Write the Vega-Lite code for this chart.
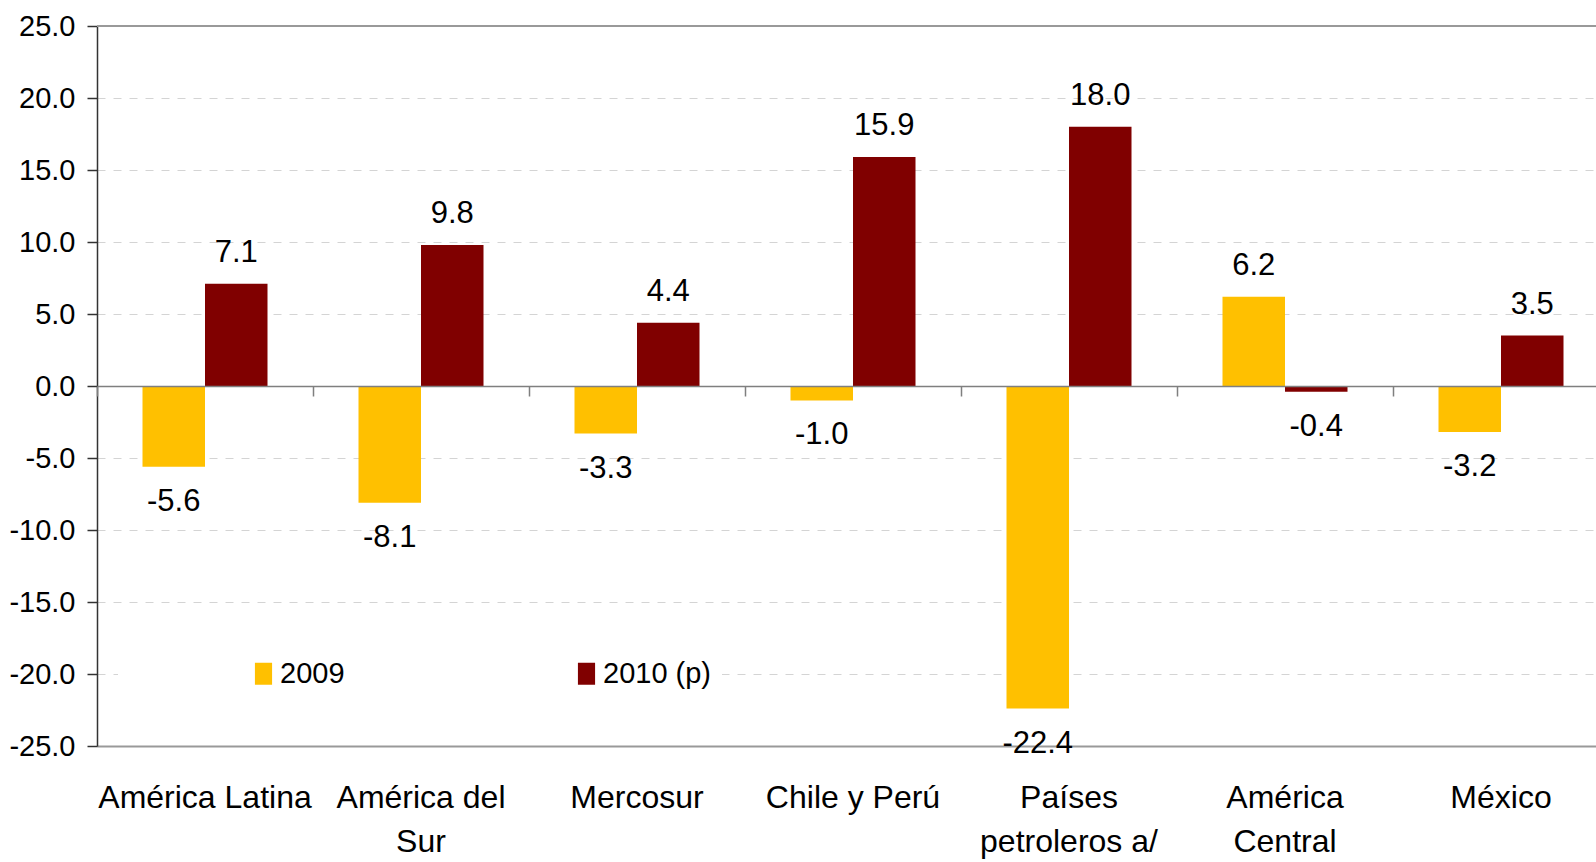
{
  "$schema": "https://vega.github.io/schema/vega-lite/v6.json",
  "width": 1499,
  "height": 720,
  "autosize": {"type": "none"},
  "padding": {"left": 97, "top": 26, "right": 0, "bottom": 116},
  "background": "white",
  "config": {
    "view": {"stroke": null},
    "font": "Liberation Sans, Arial, sans-serif",
    "locale": {"number": {"decimal": ".", "thousands": ",", "grouping": [3], "currency": ["$", ""], "minus": "-"}}
  },
  "data": {
    "values": [
      {"region": "América Latina", "year": "2009", "value": -5.6},
      {"region": "América Latina", "year": "2010 (p)", "value": 7.1},
      {"region": "América del Sur", "year": "2009", "value": -8.1},
      {"region": "América del Sur", "year": "2010 (p)", "value": 9.8},
      {"region": "Mercosur", "year": "2009", "value": -3.3},
      {"region": "Mercosur", "year": "2010 (p)", "value": 4.4},
      {"region": "Chile y Perú", "year": "2009", "value": -1.0},
      {"region": "Chile y Perú", "year": "2010 (p)", "value": 15.9},
      {"region": "Países petroleros a/", "year": "2009", "value": -22.4},
      {"region": "Países petroleros a/", "year": "2010 (p)", "value": 18.0},
      {"region": "América Central", "year": "2009", "value": 6.2},
      {"region": "América Central", "year": "2010 (p)", "value": -0.4},
      {"region": "México", "year": "2009", "value": -3.2},
      {"region": "México", "year": "2010 (p)", "value": 3.5}
    ]
  },
  "resolve": {"axis": {"x": "independent"}},
  "layer": [
    {
      "mark": {"type": "bar"},
      "encoding": {
        "x": {
          "field": "region", "type": "nominal", "sort": null,
          "scale": {"range": [0, 1512], "paddingInner": 0, "paddingOuter": 0},
          "axis": {
            "orient": "bottom", "title": null, "labelAngle": 0, "ticks": false,
            "domain": true, "domainColor": "#999999", "domainWidth": 2,
            "labelFontSize": 32, "labelColor": "#000000", "labelPadding": 36,
            "labelBaseline": "top", "labelLineHeight": 44, "labelLimit": 400,
            "labelOverlap": false, "labelBound": false,
            "labelExpr": "datum.value == 'América del Sur' ? ['América del', 'Sur'] : datum.value == 'Países petroleros a/' ? ['Países', 'petroleros a/'] : datum.value == 'América Central' ? ['América', 'Central'] : datum.value"
          }
        },
        "xOffset": {
          "field": "year", "type": "nominal",
          "scale": {"paddingInner": 0, "paddingOuter": 0.728}
        },
        "y": {
          "field": "value", "type": "quantitative",
          "scale": {"domain": [-25, 25], "nice": false, "zero": false},
          "axis": {
            "title": null,
            "values": [-25, -20, -15, -10, -5, 0, 5, 10, 15, 20, 25],
            "format": ".1f",
            "labelFontSize": 29, "labelColor": "#000000", "labelPadding": 12,
            "tickSize": 10, "tickColor": "#333333", "tickWidth": 1.5,
            "domainColor": "#333333", "domainWidth": 1.5,
            "grid": true, "gridDash": [8, 8], "gridColor": "#d4d4d4", "gridWidth": 1
          }
        },
        "color": {
          "field": "year", "type": "nominal",
          "scale": {"domain": ["2009", "2010 (p)"], "range": ["#FFC000", "#800000"]},
          "legend": {
            "orient": "none", "legendX": 21, "legendY": 623,
            "direction": "horizontal", "title": null,
            "labelFontSize": 29, "labelColor": "#000000",
            "symbolOffset": 121, "labelOffset": 2,
            "symbolType": "M-0.78,-1H0.78V1H-0.78Z", "symbolSize": 484,
            "symbolStrokeWidth": 0, "columnPadding": 106,
            "fillColor": "white", "padding": 10
          }
        }
      }
    },
    {
      "mark": {"type": "rule", "color": "#999999", "strokeWidth": 2},
      "encoding": {"y": {"datum": 25}}
    },
    {
      "transform": [{"filter": "datum.value >= 0"}],
      "mark": {"type": "text", "baseline": "alphabetic", "dy": -22, "fontSize": 31, "color": "#000000"},
      "encoding": {
        "x": {
          "field": "region", "type": "nominal", "sort": null,
          "axis": {
            "orient": "top", "offset": -360, "title": null, "labels": false,
            "domain": true, "domainColor": "#7f7f7f", "domainWidth": 1.5,
            "ticks": true, "tickSize": -10, "tickColor": "#7f7f7f", "tickWidth": 1.5,
            "bandPosition": 0, "grid": false, "zindex": 1
          }
        },
        "xOffset": {"field": "year", "type": "nominal"},
        "y": {"field": "value", "type": "quantitative"},
        "text": {"field": "value", "type": "quantitative", "format": ".1f"}
      }
    },
    {
      "transform": [{"filter": "datum.value < 0"}],
      "mark": {"type": "text", "baseline": "alphabetic", "dy": 44, "fontSize": 31, "color": "#000000"},
      "encoding": {
        "x": {"field": "region", "type": "nominal", "sort": null, "axis": null},
        "xOffset": {"field": "year", "type": "nominal"},
        "y": {"field": "value", "type": "quantitative"},
        "text": {"field": "value", "type": "quantitative", "format": ".1f"}
      }
    }
  ]
}
